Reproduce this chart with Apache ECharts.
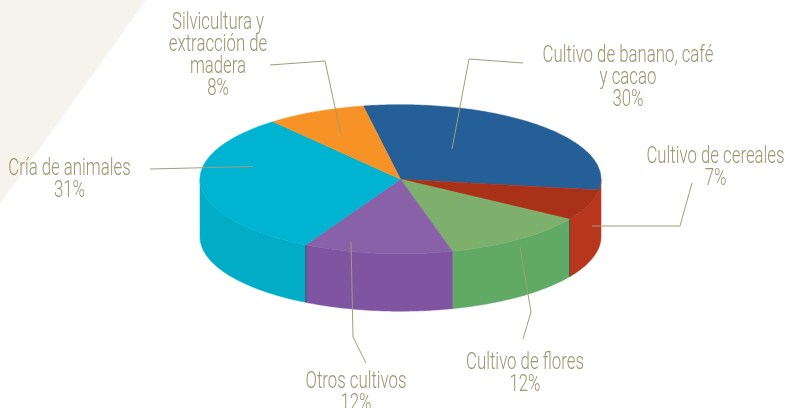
<!DOCTYPE html>
<html>
<head>
<meta charset="utf-8">
<style>
  html, body { margin: 0; padding: 0; background: #fff; }
  #chart { width: 785px; height: 408px; overflow: hidden; }
</style>
<script src="https://cdn.jsdelivr.net/npm/echarts@6/dist/echarts.min.js"></script>
</head>
<body>
<div id="chart"></div>
<script>
// datos (porcentajes sin redondear estimados de los angulos)
var categories = ['Cultivo de banano, café\ny cacao', 'Cultivo de cereales', 'Cultivo de flores', 'Otros cultivos', 'Cría de animales', 'Silvicultura y\nextracción de\nmadera'];
var values = [30.3, 6.7, 11.8, 12, 31.2, 8];

var topColors = ['#245f97', '#a83118', '#7cb06c', '#8961a8', '#00b3d0', '#f79226'];
var sideColors = ['#245f97', '#b8361b', '#61aa66', '#7f55a1', '#00acc6', '#f79226'];

// geometria del disco
var cx = 400.5, cy = 179.2, rx = 200.5, ry = 74.5, depth = 57.5;
var startAngle = -100.7;
var textColor = '#9c9570';
var lineColor = '#a39c78';

// posicion de etiquetas y lineas guia, mismo orden que categories
var labelPos = [[628, 78], [715.5, 168], [525, 374], [356, 393], [69.5, 180], [218, 56]];
var leaders = [
  [[523, 63], [469, 59], [452, 149]],
  [[692, 183], [680, 226], [592, 226]],
  [[523, 339], [531, 312], [520, 247]],
  [[366, 363], [353, 337], [351, 242]],
  [[150, 169], [253, 166.5]],
  [[270, 65], [325, 61], [341, 135]]
];

var total = values.reduce(function (a, b) { return a + b; }, 0);
var cum = [0];
values.forEach(function (v, i) { cum.push(cum[i] + v); });

function angleOf(c) {
  return echarts.number.linearMap(c, [0, total], [startAngle, startAngle + 360]);
}
function pt(deg, dy) {
  var r = deg * Math.PI / 180;
  return [cx + rx * Math.cos(r), cy + ry * Math.sin(r) + (dy || 0)];
}

function renderSlice(params, api) {
  var i = params.dataIndex;
  var a0 = angleOf(cum[i]);
  var a1 = a0 + api.value(0) / total * 360;
  var children = [];

  // pared lateral, solo la mitad delantera (0-180)
  var w0 = Math.max(a0, 0), w1 = Math.min(a1, 180);
  // el tramo azul de la derecha va del color de cereales, igual que el original
  if (i === 0) w1 = w0 - 1;
  if (i === 1) w0 = 0;
  if (w1 > w0) {
    var wall = [], d;
    for (d = w0; d <= w1; d += 1) wall.push(pt(d, 0));
    wall.push(pt(w1, 0));
    wall.push(pt(w1, depth));
    for (d = w1; d >= w0; d -= 1) wall.push(pt(d, depth));
    wall.push(pt(w0, depth));
    children.push({
      type: 'polygon',
      shape: { points: wall },
      style: { fill: sideColors[i], stroke: sideColors[i], lineWidth: 0.5 }
    });
    // costura oscura entre paredes
    if (i === 1 || i === 3) {
      children.push({
        type: 'polyline',
        z2: 5,
        shape: { points: [pt(w1, 0), pt(w1, depth)] },
        style: { stroke: '#3f3a4a', lineWidth: 0.8, fill: null }
      });
    }
  }

  // cara superior
  var pts = [[cx, cy]];
  for (var t = a0; t < a1; t += 1) pts.push(pt(t, 0));
  pts.push(pt(a1, 0));
  children.push({
    type: 'polygon',
    z2: 10,
    shape: { points: pts },
    style: { fill: topColors[i], stroke: topColors[i], lineWidth: 0.5 }
  });
  return { type: 'group', children: children };
}

var graphics = [{
  type: 'polygon',
  z: -1,
  shape: { points: [[0, 0], [146, 0], [0, 204]] },
  style: { fill: '#f6f3ec' }
}];
leaders.forEach(function (l) {
  graphics.push({
    type: 'polyline',
    z: 20,
    shape: { points: l },
    style: { stroke: lineColor, lineWidth: 1, fill: null }
  });
});
categories.forEach(function (name, i) {
  graphics.push({
    type: 'text',
    z: 20,
    x: labelPos[i][0],
    y: labelPos[i][1],
    scaleX: 0.73,
    style: {
      text: name + '\n' + Math.round(values[i]) + '%',
      fill: textColor,
      font: '300 23px Roboto',
      lineHeight: 22,
      align: 'center',
      verticalAlign: 'middle'
    }
  });
});

var myChart = echarts.init(document.getElementById('chart'), null, { renderer: 'canvas' });
myChart.setOption({
  animation: false,
  backgroundColor: '#fff',
  graphic: graphics,
  series: [{
    type: 'custom',
    coordinateSystem: 'none',
    renderItem: renderSlice,
    data: values.map(function (v) { return [v]; })
  }]
});
</script>
</body>
</html>
